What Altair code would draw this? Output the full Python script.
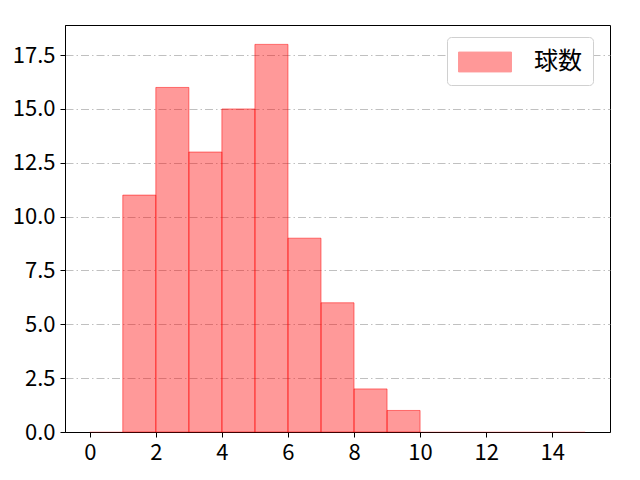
import altair as alt
import pandas as pd

bin_start = [0, 1, 2, 3, 4, 5, 6, 7, 8, 9, 10, 11, 12, 13, 14]
bin_end = [1, 2, 3, 4, 5, 6, 7, 8, 9, 10, 11, 12, 13, 14, 15]
counts = [0, 11, 16, 13, 15, 18, 9, 6, 2, 1, 0, 0, 0, 0, 0]
series = "球数"

df = pd.DataFrame({"x": bin_start, "x2": bin_end, "y": counts, "s": [series] * len(counts)})

FONT = "Noto Sans CJK JP"

bars = alt.Chart(df).mark_bar(
    fillOpacity=0.4, stroke="#ff0000", strokeWidth=1
).encode(
    x=alt.X("x:Q", scale=alt.Scale(domain=[-0.75, 15.75], nice=False, zero=False, padding=0),
            axis=alt.Axis(values=[0, 2, 4, 6, 8, 10, 12, 14], format="d", title=None,
                          grid=False)),
    x2="x2:Q",
    y=alt.Y("y:Q", scale=alt.Scale(domain=[0, 18.9], nice=False, padding=0),
            axis=alt.Axis(values=[0, 2.5, 5, 7.5, 10, 12.5, 15, 17.5], format=".1f",
                          title=None, grid=True, gridColor="#b0b0b0",
                          gridDash=[8, 3, 1.5, 3], gridWidth=0.8)),
    y2=alt.datum(0),
    strokeOpacity=alt.condition("datum.y > 0", alt.value(0.5), alt.value(0.15)),
    color=alt.Color("s:N", scale=alt.Scale(range=["#ff0000"]),
                    legend=alt.Legend(title=None, orient="none", legendX=382, legendY=12,
                                      symbolType="M-2,-0.75L2,-0.75L2,0.75L-2,0.75Z",
                                      symbolSize=700, symbolOffset=13,
                                      symbolStrokeColor="#ff0000",
                                      symbolStrokeWidth=1, symbolOpacity=0.4,
                                      labelFont=FONT, labelFontSize=24, labelColor="#000000",
                                      labelOffset=35, padding=11,
                                      strokeColor="#d0d0d0", fillColor="#ffffff",
                                      cornerRadius=4)),
)

chart = bars.properties(
    width=545, height=407,
    autosize=alt.AutoSizeParams(type="none"),
    padding={"left": 57, "top": 17, "right": 20, "bottom": 38},
).configure_axis(
    labelFont=FONT, labelFontSize=22, labelColor="#000000",
    domainColor="#000000", tickColor="#000000", tickSize=5, labelPadding=5,
    domainWidth=1,
).configure_view(
    stroke="#000000", strokeWidth=1
)

chart.save("out.html", embed_options={"renderer": "svg", "actions": False})
